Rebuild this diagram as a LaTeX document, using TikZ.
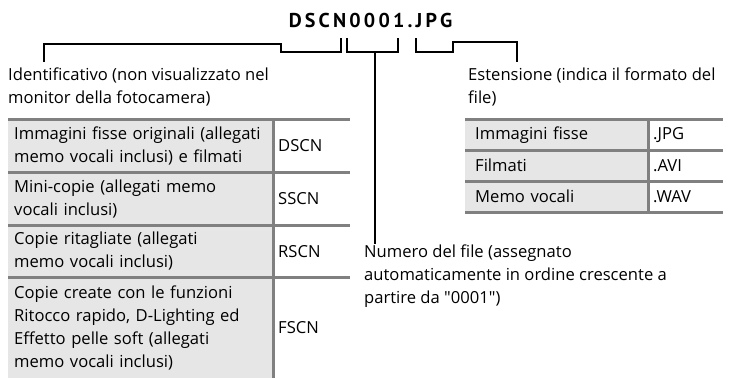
\documentclass[tikz,border=0pt]{standalone}
\usepackage{fontspec}
\setmainfont{Open Sans}
\newfontfamily\namefont{PT Sans}
\usetikzlibrary{positioning}
\definecolor{cellgray}{RGB}{230,230,230}
\definecolor{rulegray}{RGB}{128,128,128}

\begin{document}
\begin{tikzpicture}[x=1pt, y=-1pt, font=\fontsize{16.6}{23}\selectfont,
    lead/.style={line width=1.8pt},
    rule/.style={draw=rulegray, line width=3pt},
    note/.style={align=left, inner sep=0pt, anchor=base west},
    desc/.style={fill=cellgray, anchor=north west, inner xsep=6pt, inner ysep=0pt, align=left},
    code/.style={fill=white, anchor=north west, inner xsep=5pt, inner ysep=0pt, align=left}]
    \useasboundingbox (0,0) rectangle (733,378);

    % file name
    \node (fname) at (370.5,20) {\namefont\fontsize{20}{24}\selectfont\bfseries\addfontfeature{LetterSpace=16}DSCN0001.JPG};

    % bracket points under the name
    \coordinate (dscnL) at (281,44);
    \coordinate (dscnB) at (281,52);
    \coordinate (dscnR) at (341,38);
    \coordinate (numL) at (347,38);
    \coordinate (numM) at (375,52);
    \coordinate (numR) at (398,38);
    \coordinate (jpgL) at (416,38);
    \coordinate (jpgB) at (453,52);
    \coordinate (jpgR) at (453,42);
    \coordinate (idtip) at (44,62);
    \coordinate (exttip) at (517,62);

    % labels
    \node[note] (ident) at (8,103) {Identificativo (non visualizzato nel\\monitor della fotocamera)};
    \node[note] (ext) at (468,103) {Estensione (indica il formato del\\file)};
    \node[note] (num) at (364,303) {Numero del file (assegnato\\automaticamente in ordine crescente a\\partire da {\addfontfeature{Ligatures=TeXOff}"0001"})};

    % prefix table
    \node[desc, text width=253pt, minimum height=53pt] (d1) at (8,119) {Immagini fisse originali (allegati\\memo vocali inclusi) e filmati};
    \node[code, text width=67pt, minimum height=53pt] (c1) at (273,119) {DSCN};
    \node[desc, text width=253pt, minimum height=53pt] (d2) at (8,172) {Mini-copie (allegati memo\\vocali inclusi)};
    \node[code, text width=67pt, minimum height=53pt] (c2) at (273,172) {SSCN};
    \node[desc, text width=253pt, minimum height=52pt] (d3) at (8,225) {Copie ritagliate (allegati\\memo vocali inclusi)};
    \node[code, text width=67pt, minimum height=52pt] (c3) at (273,225) {RSCN};
    \node[desc, text width=253pt, minimum height=101pt] (d4) at (8,277) {Copie create con le funzioni\\Ritocco rapido, D-Lighting ed\\Effetto pelle soft (allegati\\memo vocali inclusi)};
    \node[code, text width=67pt, minimum height=101pt] (c4) at (273,277) {FSCN};

    \draw[rule] (d1.north west) -- (c1.north east);
    \draw[rule] (d2.north west) -- (c2.north east);
    \draw[rule] (d3.north west) -- (c3.north east);
    \draw[rule] (d4.north west) -- (c4.north east);
    \draw[rule] (c1.north west) -- (c4.south west);

    % extension table
    \node[desc, text width=163pt, minimum height=31pt, inner xsep=10pt] (e1) at (465,119) {Immagini fisse};
    \node[code, text width=65pt, minimum height=31pt] (x1) at (648,119) {.JPG};
    \node[desc, text width=163pt, minimum height=31pt, inner xsep=10pt] (e2) at (465,150) {Filmati};
    \node[code, text width=65pt, minimum height=31pt] (x2) at (648,150) {.AVI};
    \node[desc, text width=163pt, minimum height=31pt, inner xsep=10pt] (e3) at (465,181) {Memo vocali};
    \node[code, text width=65pt, minimum height=31pt] (x3) at (648,181) {.WAV};

    \draw[rule] (e1.north west) -- (x1.north east);
    \draw[rule] (e2.north west) -- (x2.north east);
    \draw[rule] (e3.north west) -- (x3.north east);
    \draw[rule] (e3.south west) -- (x3.south east);
    \draw[rule] (x1.north west) -- (x3.south west);

    % leaders
    \draw[lead] (idtip) |- (dscnL) -- (dscnB) -| (dscnR);
    \draw[lead] (numL) |- (numM) -| (numR);
    \draw[lead] (numM) -- (numM |- num.north);
    \draw[lead] (jpgL) |- (jpgB) -- (jpgR) -| (exttip);
\end{tikzpicture}
\end{document}
